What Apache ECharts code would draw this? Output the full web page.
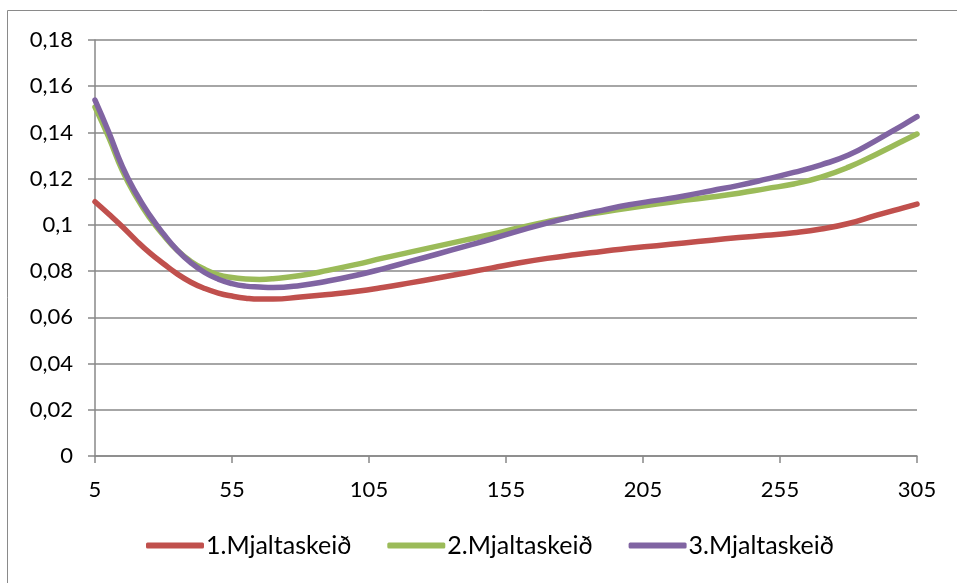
<!DOCTYPE html>
<html lang="is">
<head>
<meta charset="UTF-8">
<title>Mjaltaskeið</title>
<script src="https://cdn.jsdelivr.net/npm/echarts@6/dist/echarts.min.js"></script>
<style>
  html, body { margin: 0; padding: 0; background: #fff; }
  #chart { width: 957px; height: 583px; }
</style>
</head>
<body>
<div id="chart"></div>
<script>
// dagar í mjaltaskeiði (x-ás)
var days = [5, 10, 15, 20, 25, 30, 35, 40, 45, 50, 55, 60, 65, 70,
            80, 90, 100, 110, 120, 130, 140, 150, 160, 170, 180, 190, 200,
            210, 220, 230, 240, 250, 260, 270, 280, 290, 300, 305];
var xTicks = [5, 55, 105, 155, 205, 255, 305];
var yTicks = [0, 0.02, 0.04, 0.06, 0.08, 0.1, 0.12, 0.14, 0.16, 0.18];

var seriesNames = ['1.Mjaltaskeið', '2.Mjaltaskeið', '3.Mjaltaskeið'];
var seriesColors = ['#C0504D', '#9BBB59', '#8064A2'];

var skeid1 = [0.1100, 0.1047, 0.0992, 0.0933, 0.0879, 0.0832, 0.0788, 0.0752, 0.0725, 0.0705,
              0.0692, 0.0683, 0.0679, 0.0679,
              0.0688, 0.0699, 0.0712, 0.0729, 0.0749, 0.0770, 0.0792, 0.0814, 0.0836, 0.0855,
              0.0871, 0.0885, 0.0899, 0.0910, 0.0922, 0.0934, 0.0945, 0.0955, 0.0966, 0.0982,
              0.1006, 0.1041, 0.1074, 0.1090];
var skeid2 = [0.1510, 0.1380, 0.1235, 0.1122, 0.1030, 0.0955, 0.0890, 0.0842, 0.0808, 0.0784,
              0.0772, 0.0766, 0.0764, 0.0767,
              0.0781, 0.0803, 0.0828, 0.0856, 0.0882, 0.0908, 0.0934, 0.0960, 0.0988, 0.1014,
              0.1037, 0.1055, 0.1073, 0.1090, 0.1106, 0.1121, 0.1137, 0.1157, 0.1177, 0.1207,
              0.1250, 0.1305, 0.1364, 0.1393];
var skeid3 = [0.1540, 0.1402, 0.1252, 0.1136, 0.1041, 0.0961, 0.0891, 0.0836, 0.0794, 0.0765,
              0.0746, 0.0735, 0.0731, 0.0729,
              0.0738, 0.0757, 0.0781, 0.0810, 0.0842, 0.0874, 0.0907, 0.0940, 0.0975, 0.1008,
              0.1037, 0.1063, 0.1087, 0.1106, 0.1125, 0.1148, 0.1171, 0.1198, 0.1227, 0.1260,
              0.1302, 0.1365, 0.1433, 0.1468];

var allData = [skeid1, skeid2, skeid3];
var font = 'Lato, "Noto Sans", sans-serif';

function pairs(vals) {
  return vals.map(function (v, i) { return [days[i], v]; });
}

var myChart = echarts.init(document.getElementById('chart'));
var option = {
  animation: false,
  graphic: [{
    type: 'rect',
    shape: { x: 7.5, y: 10.5, width: 1200, height: 1200 },
    style: { fill: 'none', stroke: '#8a8a8a', lineWidth: 1 }
  }],
  grid: { left: 95, right: 40, top: 40, bottom: 127, containLabel: false },
  legend: {
    bottom: 20,
    left: 141,
    itemWidth: 58,
    itemHeight: 6,
    itemGap: 36,
    icon: 'roundRect',
    data: seriesNames,
    textStyle: { fontFamily: font, fontSize: 25, color: '#000', padding: [0, 0, 0, -3] }
  },
  xAxis: {
    type: 'value',
    min: 5,
    max: 305,
    axisLine: { lineStyle: { color: '#888', width: 1.5 } },
    axisTick: { show: true, length: 7, customValues: xTicks, lineStyle: { color: '#888', width: 1.5 } },
    axisLabel: { margin: 23, customValues: xTicks, fontFamily: font, fontSize: 22, color: '#000' },
    splitLine: { show: false }
  },
  yAxis: {
    type: 'value',
    min: 0,
    max: 0.18,
    interval: 0.02,
    axisLine: { show: true, lineStyle: { color: '#888', width: 1.5 } },
    axisTick: { show: true, length: 7, lineStyle: { color: '#888', width: 1.5 } },
    axisLabel: {
      margin: 22, fontFamily: font, fontSize: 22, color: '#000',
      formatter: function (v) {
        var t = yTicks.filter(function (k) { return Math.abs(k - v) < 1e-9; });
        var s = t.length ? String(+t[0].toFixed(2)) : String(v);
        return s.replace('.', ',');
      }
    },
    splitLine: { show: true, lineStyle: { color: '#888', width: 1.5 } }
  },
  series: allData.map(function (d, i) {
    return {
      name: seriesNames[i],
      type: 'line',
      data: pairs(d),
      smooth: 0.5,
      showSymbol: false,
      color: seriesColors[i],
      lineStyle: { width: 5.5, color: seriesColors[i], cap: 'round', join: 'round' }
    };
  })
};
myChart.setOption(option);
</script>
</body>
</html>
